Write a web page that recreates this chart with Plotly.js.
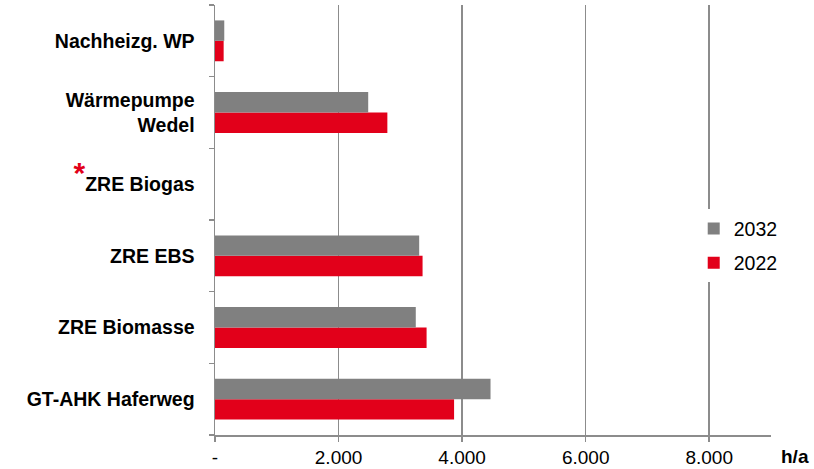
<!DOCTYPE html>
<html>
<head>
<meta charset="utf-8">
<script src="https://cdn.plot.ly/plotly-3.0.1.min.js"></script>
<style>
  html, body { margin: 0; padding: 0; background: #fff; }
  #chart { width: 814px; height: 469px; }
</style>
</head>
<body>
<div id="chart"></div>
<script>
// Plants, listed bottom to top
const plants = [
  "GT-AHK Haferweg",
  "ZRE Biomasse",
  "ZRE EBS",
  "ZRE Biogas",
  "Wärmepumpe<br>Wedel",
  "Nachheizg. WP"
];
const plantLabels = [
  "<b>GT-AHK Haferweg</b>",
  "<b>ZRE Biomasse</b>",
  "<b>ZRE EBS</b>",
  "<sup><span style=\"color:#e2001a;font-size:30px;font-weight:bold\">*</span></sup><b>ZRE Biogas</b>",
  "<b>Wärmepumpe<br>Wedel</b>",
  "<b>Nachheizg. WP</b>"
];
// Full-load hours per year
const hours2022 = [3870, 3425, 3360, 0, 2790, 140];
const hours2032 = [4460, 3250, 3305, 0, 2480, 150];

const xTickVals = [0, 2000, 4000, 6000, 8000];
const xTickText = ["-", "2.000", "4.000", "6.000", "8.000"];

const traces = [
  { type: "bar", orientation: "h", name: "2022", legendgroup: "a", legendrank: 2,
    y: plants, x: hours2022, marker: { color: "#e2001a" } },
  { type: "bar", orientation: "h", name: "2032", legendgroup: "b", legendrank: 1,
    y: plants, x: hours2032, marker: { color: "#808080" } }
];

const layout = {
  width: 814, height: 469,
  margin: { l: 215, r: 43, t: 5, b: 34 },
  paper_bgcolor: "#fff", plot_bgcolor: "#fff",
  font: { family: "Liberation Sans, Arial, sans-serif", color: "#000" },
  barmode: "group",
  bargap: 0.43,
  bargroupgap: 0,
  showlegend: true,
  legend: {
    x: 0.861, xanchor: "left", y: 0.44, yanchor: "middle",
    traceorder: "grouped",
    tracegroupgap: 6,
    font: { size: 19.5, color: "#000" },
    bgcolor: "rgba(255,255,255,1)",
    borderwidth: 0
  },
  xaxis: {
    range: [0, 9000],
    tickvals: xTickVals, ticktext: xTickText,
    showgrid: true, gridcolor: "#8c8c8c", gridwidth: 1.5,
    zeroline: false,
    showline: true, linecolor: "#8c8c8c", linewidth: 1.5,
    ticks: "outside", ticklen: 5, tickcolor: "#8c8c8c", tickwidth: 1.5,
    ticklabelstandoff: 0,
    tickfont: { size: 19, color: "#000" },
    fixedrange: true
  },
  yaxis: {
    type: "category",
    categoryorder: "array", categoryarray: plants,
    tickvals: plants, ticktext: plantLabels,
    tickson: "boundaries",
    showgrid: false, zeroline: false,
    showline: true, linecolor: "#8c8c8c", linewidth: 1.5,
    ticks: "outside", ticklen: 5, tickcolor: "#8c8c8c", tickwidth: 1.5,
    ticklabelstandoff: 15,
    tickfont: { size: 19.5, color: "#000" },
    fixedrange: true
  },
  annotations: [{
    text: "<b>h/a</b>", xref: "paper", yref: "paper",
    x: 1, y: 0, xanchor: "left", yanchor: "middle",
    xshift: 8, yshift: -21, showarrow: false,
    font: { size: 19, color: "#000" }
  }]
};

Plotly.newPlot("chart", traces, layout, { displayModeBar: false, staticPlot: true });
</script>
</body>
</html>
